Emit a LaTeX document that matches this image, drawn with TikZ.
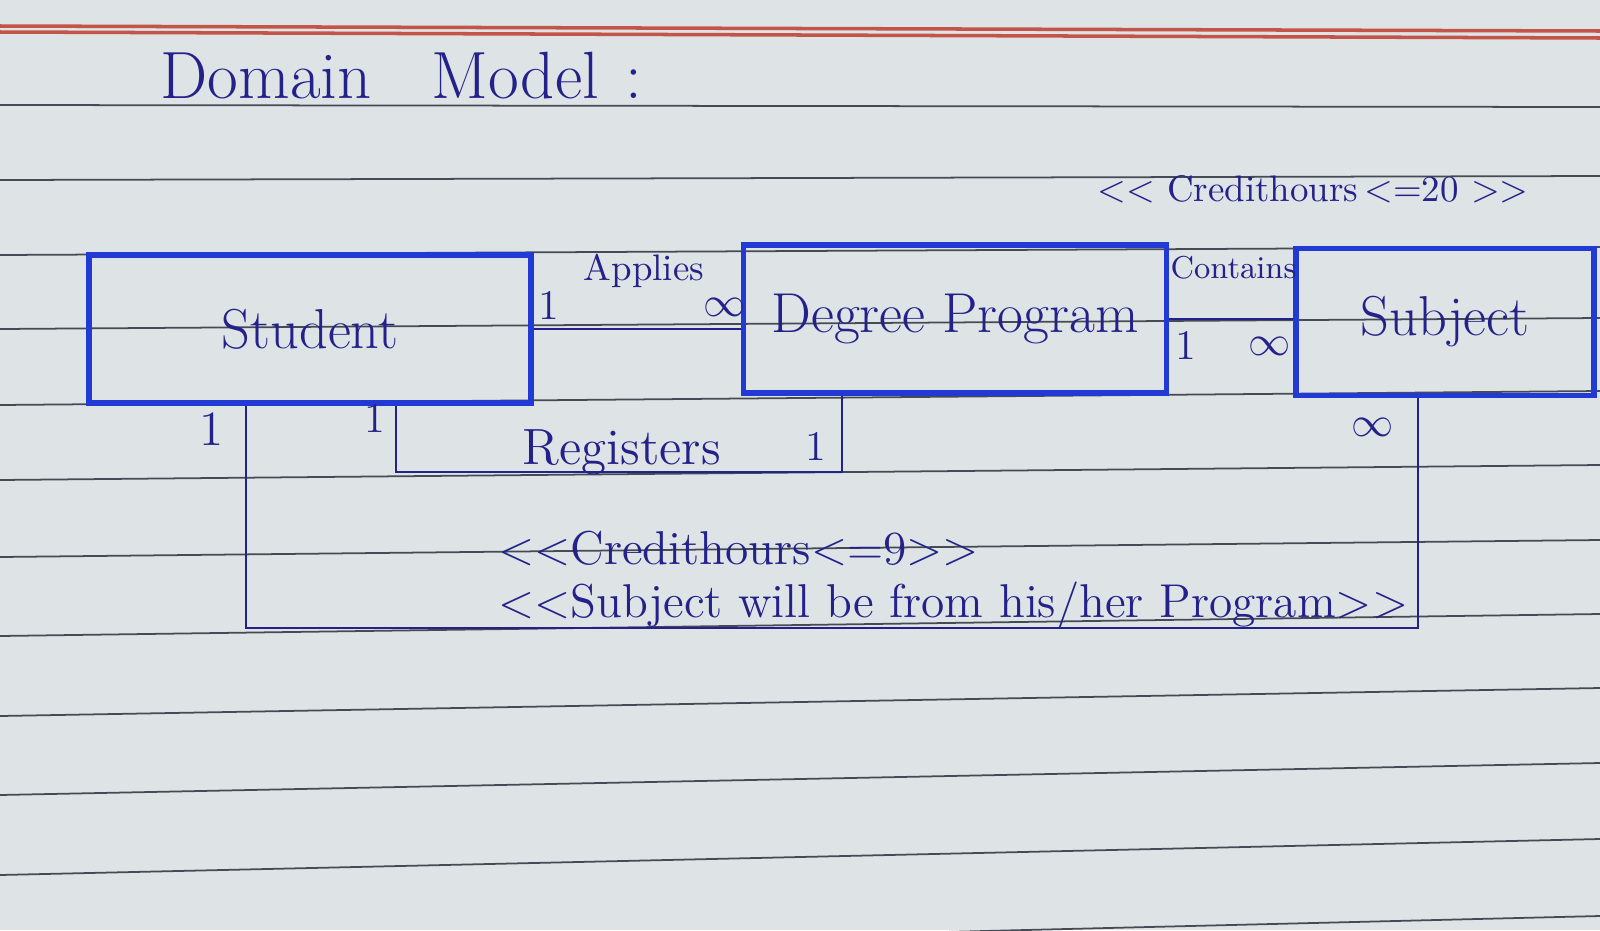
\documentclass[tikz,border=0pt]{standalone}
\usetikzlibrary{positioning,calc}
\usepackage{xcolor}
\definecolor{paper}{RGB}{222,227,229}
\definecolor{ruleline}{RGB}{70,74,84}
\definecolor{marginred}{RGB}{196,84,72}
\definecolor{penblue}{RGB}{34,58,212}
\definecolor{inkblue}{RGB}{36,34,138}
\newcommand{\lsh}{<\kern0pt<}
\newcommand{\rsh}{>\kern0pt>}
\tikzset{
	rule/.style={
		draw=ruleline,
		line width=0.5pt,
	},
	classbox/.style={
		rectangle,
		draw=penblue,
		line width=1.6pt,
		minimum height=1.48cm,
		text=inkblue,
		font=\fontsize{16}{18}\selectfont,
	},
	assoc/.style={
		draw=inkblue,
		line width=0.8pt,
	},
	mult/.style={
		text=inkblue,
		inner sep=1pt,
		font=\fontsize{12}{14}\selectfont,
	},
	rolename/.style={
		text=inkblue,
		inner sep=1pt,
		font=\fontsize{10.5}{13}\selectfont,
	},
	constraint/.style={
		text=inkblue,
		inner sep=1pt,
		align=left,
		font=\fontsize{13.5}{15}\selectfont,
	},
}
\begin{document}
\begin{tikzpicture}[x=0.01cm,y=-0.01cm]
	\useasboundingbox (0,0) rectangle (1600,930);
	\fill[paper] (0,0) rectangle (1600,930);
	\draw[marginred,line width=1pt] (0,26) -- (1600,31);
	\draw[marginred,line width=1pt] (0,32) -- (1600,38);
	\foreach \yl/\yr in {105/107,180/176,255/247,329/318,405/391,480/465,
	                     557/540,636/614,716/688,795/763,875/839,955/916}
	  \draw[rule] (0,\yl) -- (1600,\yr);

	\node [
	  anchor=base west,
	  inner sep=0pt,
	  text=inkblue,
	  font=\fontsize{19}{22}\selectfont
	] (title) at (160,98) {Domain\hspace{0.9em}Model\hspace{0.4em}:};

	\node [
	  classbox,
	  minimum width=4.42cm
	] (student) at (310,329) {Student};
	\node [
	  classbox,
	  minimum width=4.23cm
	] (program) at (955,319) {Degree Program};
	\node [
	  classbox,
	  minimum width=2.98cm,
	  minimum height=1.47cm
	] (subject) at (1445,322) {Subject};

	\coordinate (regL) at (396,472);
	\coordinate (regR) at (842,472);
	\coordinate (takL) at (246,628);
	\coordinate (takR) at (1418,628);

	\draw[assoc] (student.east) -- (student.east -| program.west);
	\draw[assoc] (program.east) -- (program.east -| subject.west);
	\draw[assoc] (student.south -| regL) -- (regL) -- (regR) -- (program.south -| regR);
	\draw[assoc] (student.south -| takL) -- (takL) -- (takR) -- (subject.south -| takR);

	\node [rolename] (applies) at ($(student.east)+(110,-58)$) {Applies};
	\node [mult] at ($(student.east)+(15,-24)$) {1};
	\node [mult] at ($(program.west)+(-16,-12)$) {$\infty$};

	\node [
	  rolename,
	  font=\fontsize{9}{11}\selectfont
	] (contains) at ($(program.east)+(64,-51)$) {Contains};
	\node [mult] at ($(program.east)+(16,26)$) {1};
	\node [mult] at ($(subject.west)+(-24,24)$) {$\infty$};

	\node [
	  rolename,
	  font=\fontsize{14.5}{17}\selectfont
	] (registers) at (622,452) {Registers};
	\node [mult] at ($(regL)+(-21,-54)$) {1};
	\node [mult] at ($(regR)+(-26,-26)$) {1};

	\node [mult, font=\fontsize{14}{17}\selectfont] at ($(takL)+(-34,-199)$) {1};
	\node [mult] at ($(takR)+(-45,-201)$) {$\infty$};

	\node [rolename] (hours20) at ($(subject.north)+(-132,-56)$) {\lsh\ Credithours\,<=20 \rsh};
	\node [
	  constraint,
	  anchor=west
	] (rules) at (494,580) {\lsh Credithours<=9\rsh\\ \lsh Subject will be from his/her Program\rsh};
\end{tikzpicture}
\end{document}
